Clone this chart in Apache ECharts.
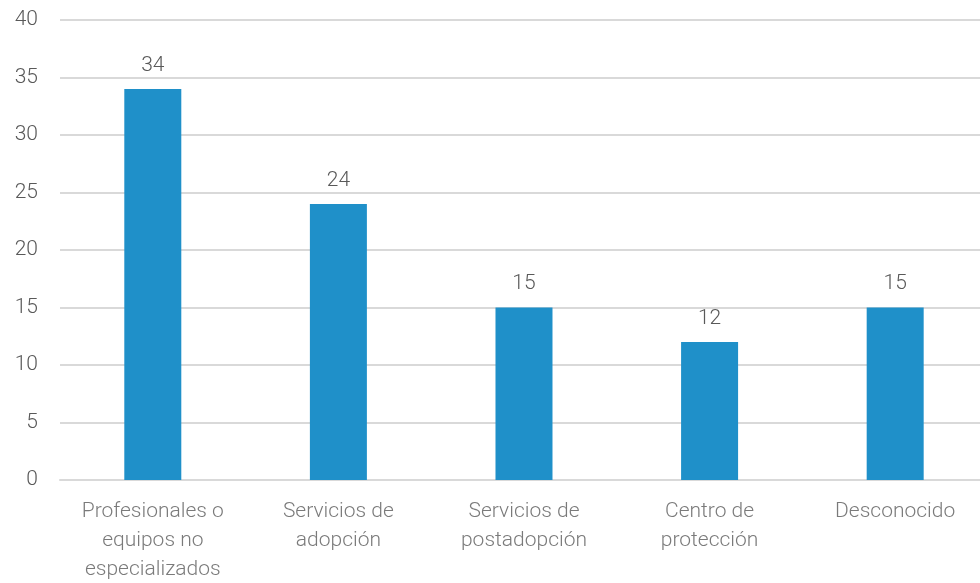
<!DOCTYPE html>
<html><head><meta charset="utf-8">
<script src="https://cdn.jsdelivr.net/npm/echarts@6/dist/echarts.min.js"></script>
<style>html,body{margin:0;padding:0;background:#fff}#c{width:980px;height:583px}</style>
</head><body><div id="c"></div>
<script>
var categories = ["Profesionales o\nequipos no\nespecializados", "Servicios de\nadopción", "Servicios de\npostadopción", "Centro de\nprotección", "Desconocido"];
var values = [34, 24, 15, 12, 15];
var yTicks = [0, 5, 10, 15, 20, 25, 30, 35, 40];

var font = 'Roboto';
var barData = values.map(function (v, i) { return [i, v]; });
var catData = categories.map(function (c, i) { return { value: [i, 0], name: c }; });

var chart = echarts.init(document.getElementById('c'));
chart.setOption({
  animation: false,
  grid: { left: 60, top: 20, right: 0, bottom: 103, containLabel: false },
  xAxis: {
    type: 'value', min: -0.5, max: 4.457,
    axisLine: { show: true, onZero: false, lineStyle: { color: '#d9d9d9', width: 2 } },
    axisTick: { show: false }, axisLabel: { show: false }, splitLine: { show: false }
  },
  yAxis: {
    type: 'value', min: yTicks[0], max: yTicks[yTicks.length-1], interval: 5,
    axisLine: { show: false }, axisTick: { show: false },
    splitLine: { lineStyle: { color: '#d9d9d9', width: 2 } },
    axisLabel: { color: '#595959', fontFamily: font, fontSize: 21, fontWeight: 300, margin: 22 }
  },
  series: [{
    type: 'bar', data: barData, barWidth: 57,
    itemStyle: { color: '#1f90c9' },
    label: { show: true, position: 'top', distance: 13, color: '#595959', fontFamily: font, fontSize: 21, fontWeight: 300,
      formatter: function (p) { return p.value[1]; } }
  }, {
    type: 'scatter', data: catData, symbolSize: 0, clip: false, silent: true,
    label: { show: true, position: 'bottom', distance: 17, color: '#595959', fontFamily: font, fontSize: 21, fontWeight: 300,
      lineHeight: 29, align: 'center', verticalAlign: 'top', formatter: function (p) { return p.name; } }
  }]
});
</script></body></html>
